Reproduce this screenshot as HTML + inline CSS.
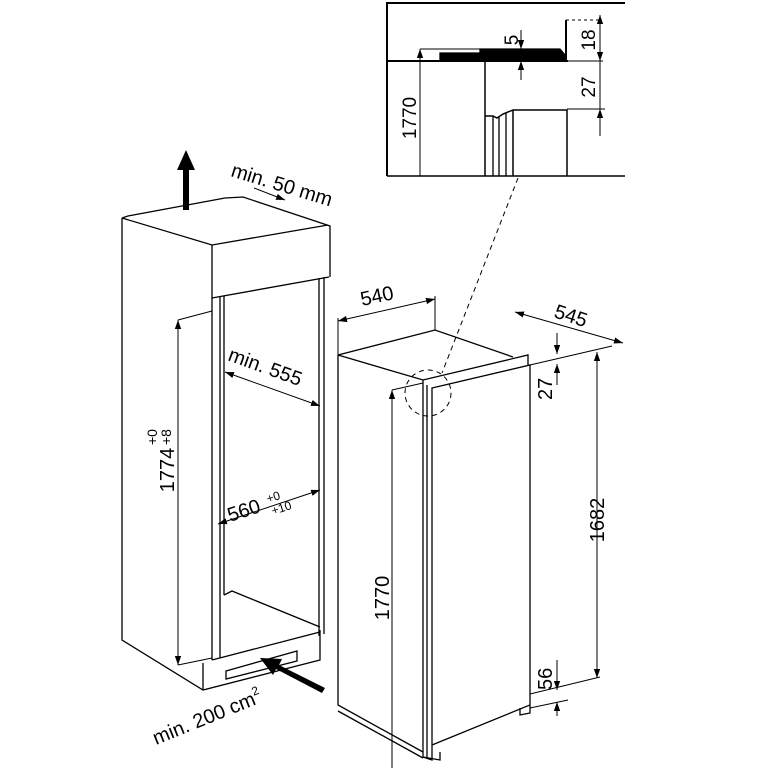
<!DOCTYPE html>
<html><head><style>html,body{margin:0;padding:0;background:#fff}svg{display:block}</style></head>
<body>
<svg width="768" height="768" viewBox="0 0 768 768" xmlns="http://www.w3.org/2000/svg" font-family="Liberation Sans, sans-serif" fill="none" stroke="#000" stroke-width="1.3">
<defs>
<marker id="a" viewBox="0 0 10 10" refX="10" refY="5" markerWidth="9" markerHeight="9" orient="auto-start-reverse" markerUnits="userSpaceOnUse"><path d="M0,1.5 L10,5 L0,8.5 Z" fill="#000" stroke="none"/></marker>
</defs>
<!-- INSET -->
<path d="M387,176 V3 H625" stroke-width="2"/>
<line x1="387" y1="176" x2="625" y2="176" stroke-width="1.5"/>
<line x1="387" y1="61" x2="568" y2="61" stroke-width="2"/>
<line x1="568" y1="61" x2="603" y2="61" stroke-width="1"/>
<path d="M440,53 H480 V49 H560 L565,55 V61 H440 Z" fill="#000"/>
<line x1="566" y1="20" x2="566" y2="61" stroke-width="2"/>
<line x1="566" y1="20" x2="600" y2="20" stroke-dasharray="3,3" stroke-width="1"/>
<line x1="420" y1="49" x2="480" y2="49" stroke-width="1"/>
<line x1="420" y1="49" x2="420" y2="176" stroke-width="1" marker-start="url(#a)"/>
<line x1="485" y1="61" x2="485" y2="176" stroke-width="1.5"/>
<path d="M485,116 H493 L497,118 L503,114 L513,110 H567 V176" stroke-width="1.5"/>
<line x1="493" y1="116" x2="493" y2="176"/><line x1="499" y1="117" x2="499" y2="176"/><line x1="506" y1="113" x2="506" y2="176"/><line x1="513" y1="110" x2="513" y2="176" stroke-width="1.5"/>
<line x1="567" y1="109" x2="605" y2="109" stroke-width="1"/>
<line x1="600" y1="15" x2="600" y2="61" stroke-width="1" marker-start="url(#a)" marker-end="url(#a)"/>
<line x1="600" y1="61" x2="600" y2="136" stroke-width="1"/>
<line x1="600" y1="109" x2="600" y2="135" stroke-width="1" marker-start="url(#a)"/>
<line x1="521" y1="30" x2="521" y2="49" stroke-width="1" marker-end="url(#a)"/>
<line x1="521" y1="80" x2="521" y2="61" stroke-width="1" marker-end="url(#a)"/>
<g fill="#000" stroke="none" font-size="19">
<text transform="translate(518,40) rotate(-90)" text-anchor="middle">5</text>
<text transform="translate(595,40) rotate(-90)" text-anchor="middle">18</text>
<text transform="translate(595,87) rotate(-90)" text-anchor="middle">27</text>
<text transform="translate(416,118) rotate(-90)" text-anchor="middle">1770</text>
</g>
<!-- dashed callout -->
<line x1="518" y1="178" x2="442" y2="373" stroke-width="1" stroke-dasharray="5,4"/>
<circle cx="428" cy="393" r="23" stroke-width="1" stroke-dasharray="5,4"/>

<!-- LEFT CABINET -->
<path d="M122,218 L128,216 L225,198 L243,197 L330,226 V277"/>
<path d="M122,218 L212,245 L328,225"/>
<path d="M212,245 V298 L329,277"/>
<path d="M122,218 V640 L203,690 L320,660 V630"/>
<path d="M212,298 V660"/>
<path d="M220,297 V658 M224,296 V595"/>
<path d="M319,278 V636 M324,277 V634"/>
<path d="M224,595 L232,591 L320,627"/>
<path d="M212,660 L320,632"/>
<path d="M203,690 V663"/>
<path d="M226,671 L297,651 V661 L226,679 Z"/>
<!-- 1774 -->
<line x1="178" y1="320" x2="212" y2="311" stroke-width="1"/>
<line x1="178" y1="320" x2="178" y2="665" stroke-width="1" marker-start="url(#a)" marker-end="url(#a)"/>
<line x1="178" y1="665" x2="212" y2="658" stroke-width="1"/>
<!-- 555 -->
<line x1="225" y1="372" x2="320" y2="406" stroke-width="1" marker-start="url(#a)" marker-end="url(#a)"/>
<line x1="218" y1="524" x2="320" y2="490" stroke-width="1" marker-start="url(#a)" marker-end="url(#a)"/>
<!-- 50mm -->
<line x1="254" y1="188" x2="285" y2="200" stroke-width="1" marker-end="url(#a)"/>
<!-- up arrow -->
<path d="M183,210 V170 H177 L186,150 L195,170 H189 V210 Z" fill="#000" stroke="none"/>
<!-- bottom arrow -->
<path d="M325,688 L279,665 L282,659 L260,658 L273,675 L276,669 L322,693 Z" fill="#000" stroke="none"/>
<g fill="#000" stroke="none" font-size="20">
<text transform="translate(230,176) rotate(17)">min. 50 mm</text>
<text transform="translate(227,360) rotate(20)">min. 555</text>
<text transform="translate(230,522) rotate(-18)">560</text>
<text transform="translate(268,503) rotate(-18)" font-size="12">+0</text>
<text transform="translate(273,515) rotate(-18)" font-size="12">+10</text>
<text transform="translate(174,470) rotate(-90)" text-anchor="middle">1774</text>
<text transform="translate(157,445) rotate(-90)" font-size="14">+0</text>
<text transform="translate(171,445) rotate(-90)" font-size="14">+8</text>
<text transform="translate(156,745) rotate(-22)">min. 200 cm<tspan font-size="12" dy="-9">2</tspan></text>
</g>

<!-- RIGHT FRIDGE -->
<path d="M338,355 L435,330 L513,357"/>
<path d="M338,355 L423,380 L528,355 V365"/>
<path d="M338,355 V705 L423,752"/>
<path d="M423,380 V757 L432,760 V388 L530,365 V705 L432,745"/>
<path d="M427,385 V757"/>
<path d="M338,711 L423,758"/>
<path d="M423,757 L440,760 V752"/>
<path d="M520,708 V715 L530,713 V705"/>
<!-- 540 -->
<line x1="338" y1="355" x2="338" y2="318" stroke-width="1"/>
<line x1="435" y1="330" x2="435" y2="296" stroke-width="1"/>
<line x1="338" y1="321" x2="435" y2="299" stroke-width="1" marker-start="url(#a)" marker-end="url(#a)"/>
<!-- 545 -->
<line x1="515" y1="312" x2="623" y2="343" stroke-width="1" marker-start="url(#a)" marker-end="url(#a)"/>
<line x1="530" y1="365" x2="612" y2="346" stroke-width="1"/>
<!-- 27 -->
<line x1="557" y1="333" x2="557" y2="354" stroke-width="1" marker-end="url(#a)"/>
<line x1="557" y1="385" x2="557" y2="364" stroke-width="1" marker-end="url(#a)"/>
<!-- 1682 -->
<line x1="597" y1="352" x2="597" y2="678" stroke-width="1" marker-start="url(#a)" marker-end="url(#a)"/>
<line x1="530" y1="694" x2="600" y2="677" stroke-width="1"/>
<line x1="530" y1="708" x2="568" y2="700" stroke-width="1"/>
<!-- 56 -->
<line x1="557" y1="660" x2="557" y2="690" stroke-width="1" marker-end="url(#a)"/>
<line x1="557" y1="716" x2="557" y2="702" stroke-width="1" marker-end="url(#a)"/>
<!-- 1770 -->
<line x1="392" y1="390" x2="423" y2="383" stroke-width="1"/>
<line x1="392" y1="390" x2="392" y2="768" stroke-width="1" marker-start="url(#a)"/>
<g fill="#000" stroke="none" font-size="20">
<text transform="translate(362,306) rotate(-12)">540</text>
<text transform="translate(553,317) rotate(18)">545</text>
<text transform="translate(552,400) rotate(-90)">27</text>
<text transform="translate(552,690) rotate(-90)">56</text>
<text transform="translate(604,520) rotate(-90)" text-anchor="middle">1682</text>
<text transform="translate(389,598) rotate(-90)" text-anchor="middle">1770</text>
</g>
</svg>
</body></html>
